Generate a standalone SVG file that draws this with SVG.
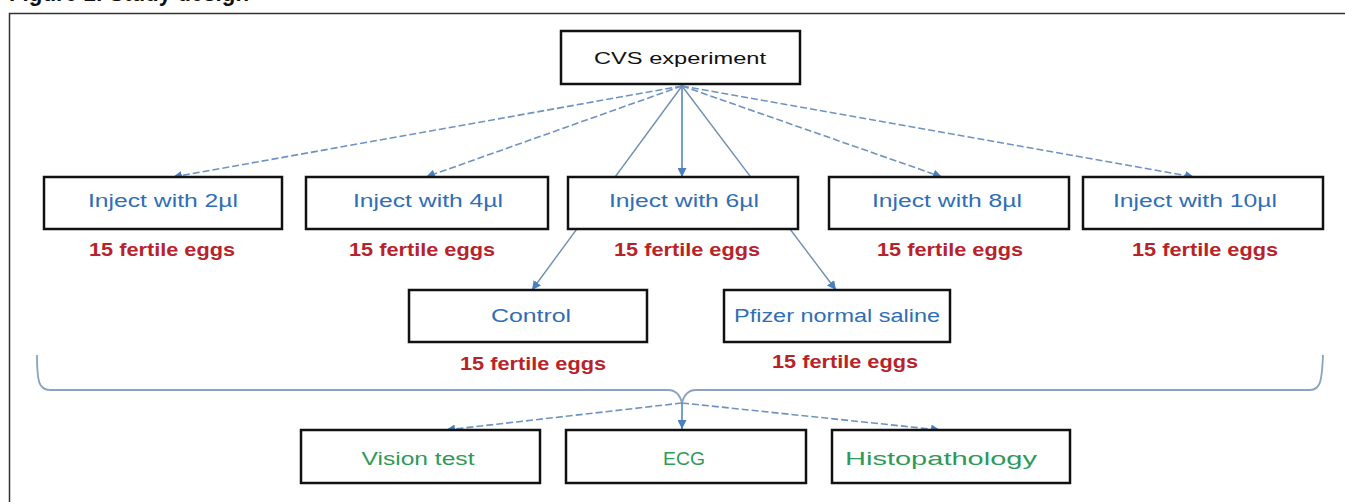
<svg xmlns="http://www.w3.org/2000/svg" width="1345" height="502" viewBox="0 0 1345 502">
<defs>
<marker id="ah" viewBox="0 0 10 10" refX="10" refY="5" markerWidth="9" markerHeight="9" markerUnits="userSpaceOnUse" orient="auto">
<path d="M0,0 L10,5 L0,10 z" fill="#4a7fc1"/>
</marker>
<style>
.box{fill:#fff;stroke:#111;stroke-width:2.5}
.t{font-family:"Liberation Sans",Arial,sans-serif;text-anchor:middle}
.blk{font-size:17px;fill:#111}
.blue{font-size:18px;fill:#2f6eb5}
.red{font-size:19px;font-weight:bold;fill:#b8232b}
.green{font-size:18px;fill:#2e9a58}
.dash{fill:none;stroke:#6f93c0;stroke-width:1.6;stroke-dasharray:7 3}
.solid{fill:none;stroke:#6f8fb0;stroke-width:1.4}
.ar{fill:none;stroke:#4a7fc1;stroke-width:1.5}
.brace{fill:none;stroke:#8aa3bf;stroke-width:1.8}
</style>
</defs>
<rect width="1345" height="502" fill="#fff"/>
<text x="9" y="0.5" font-family="Liberation Sans,Arial,sans-serif" font-weight="bold" font-size="24" fill="#111" textLength="240" lengthAdjust="spacingAndGlyphs">Figure 1: Study design</text>
<rect x="9.5" y="13.5" width="1400" height="600" fill="none" stroke="#333" stroke-width="1.5"/>
<g id="connectors">
<path class="dash" d="M682,86 L173,177" marker-end="url(#ah)"/>
<path class="dash" d="M682,86 L426,177" marker-end="url(#ah)"/>
<path class="ar" d="M682,86 L682,177" marker-end="url(#ah)"/>
<path class="dash" d="M682,86 L942,177" marker-end="url(#ah)"/>
<path class="dash" d="M682,86 L1194,177" marker-end="url(#ah)"/>
<path class="solid" d="M682,86 L532,290" marker-end="url(#ah)"/>
<path class="solid" d="M682,86 L836,290" marker-end="url(#ah)"/>
<path class="brace" d="M37,355 C37,382 39,390 50,390 L668,390 C676,390 680,395 682,403 C684,395 688,390 696,390 L1310,390 C1320,390 1322,382 1323,355"/>
<path class="dash" d="M682,403 L446,430" marker-end="url(#ah)"/>
<path class="ar" d="M682,403 L682,429" marker-end="url(#ah)"/>
<path class="dash" d="M682,403 L940,430" marker-end="url(#ah)"/>
</g>
<g id="cvs">
<rect class="box" x="561" y="31" width="239" height="53"/>
<text class="t blk" x="680" y="64" textLength="172" lengthAdjust="spacingAndGlyphs">CVS experiment</text>
</g>
<g id="inj2">
<rect class="box" x="44" y="177" width="238" height="52"/>
<text class="t blue" x="163" y="207" textLength="150" lengthAdjust="spacingAndGlyphs">Inject with 2µl</text>
<text class="t red" x="162" y="256" textLength="146" lengthAdjust="spacingAndGlyphs">15 fertile eggs</text>
</g>
<g id="inj4">
<rect class="box" x="306" y="177" width="242" height="52"/>
<text class="t blue" x="428" y="207" textLength="150" lengthAdjust="spacingAndGlyphs">Inject with 4µl</text>
<text class="t red" x="422" y="256" textLength="146" lengthAdjust="spacingAndGlyphs">15 fertile eggs</text>
</g>
<g id="inj6">
<rect class="box" x="568" y="177" width="230" height="52"/>
<text class="t blue" x="684" y="207" textLength="150" lengthAdjust="spacingAndGlyphs">Inject with 6µl</text>
<text class="t red" x="687" y="256" textLength="146" lengthAdjust="spacingAndGlyphs">15 fertile eggs</text>
</g>
<g id="inj8">
<rect class="box" x="829" y="177" width="240" height="52"/>
<text class="t blue" x="947" y="207" textLength="150" lengthAdjust="spacingAndGlyphs">Inject with 8µl</text>
<text class="t red" x="950" y="256" textLength="146" lengthAdjust="spacingAndGlyphs">15 fertile eggs</text>
</g>
<g id="inj10">
<rect class="box" x="1083" y="177" width="240" height="52"/>
<text class="t blue" x="1195" y="207" textLength="164" lengthAdjust="spacingAndGlyphs">Inject with 10µl</text>
<text class="t red" x="1205" y="256" textLength="146" lengthAdjust="spacingAndGlyphs">15 fertile eggs</text>
</g>
<g id="control">
<rect class="box" x="409" y="290" width="238" height="52"/>
<text class="t blue" x="531" y="322" textLength="80" lengthAdjust="spacingAndGlyphs">Control</text>
<text class="t red" x="533" y="370" textLength="146" lengthAdjust="spacingAndGlyphs">15 fertile eggs</text>
</g>
<g id="pfizer">
<rect class="box" x="724" y="290" width="226" height="52"/>
<text class="t blue" x="837" y="322" textLength="206" lengthAdjust="spacingAndGlyphs">Pfizer normal saline</text>
<text class="t red" x="845" y="368" textLength="146" lengthAdjust="spacingAndGlyphs">15 fertile eggs</text>
</g>
<g id="vision">
<rect class="box" x="301" y="430" width="239" height="53"/>
<text class="t green" x="418" y="465" textLength="113" lengthAdjust="spacingAndGlyphs">Vision test</text>
</g>
<g id="ecg">
<rect class="box" x="566" y="430" width="240" height="53"/>
<text class="t green" x="684" y="465" textLength="42" lengthAdjust="spacingAndGlyphs">ECG</text>
</g>
<g id="histo">
<rect class="box" x="832" y="430" width="238" height="53"/>
<text class="t green" x="941" y="465" textLength="192" lengthAdjust="spacingAndGlyphs">Histopathology</text>
</g>
</svg>
